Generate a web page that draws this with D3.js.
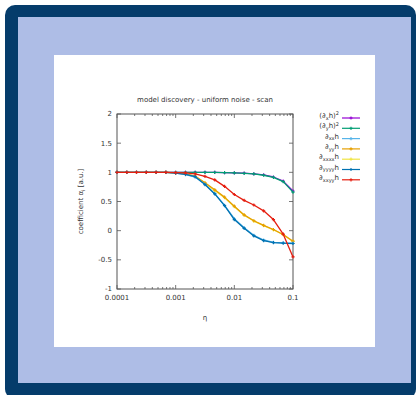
<!DOCTYPE html>
<html>
<head>
<meta charset="utf-8">
<script src="https://cdn.jsdelivr.net/npm/d3@7"></script>
<style>
  html, body { margin: 0; padding: 0; background: #fff; }
  svg { display: block; font-family: "DejaVu Sans", sans-serif; }
</style>
</head>
<body>
<script>
// noise strength eta (log grid)
const eta = [0.0001, 0.000147, 0.000215, 0.000316, 0.000464, 0.000681,
  0.001, 0.00147, 0.00215, 0.00316, 0.00464, 0.00681,
  0.01, 0.0147, 0.0215, 0.0316, 0.0464, 0.0681, 0.1];

const dxhSq   = [1, 1, 1, 1, 1, 1, 1, 1, 1, 1, 1, 0.995, 0.99, 0.985, 0.975, 0.955, 0.92, 0.85, 0.68];
const dyhSq   = [1, 1, 1, 1, 1, 1, 1, 1, 1, 1, 0.998, 0.995, 0.99, 0.983, 0.972, 0.95, 0.915, 0.84, 0.66];
const dxxh    = [1, 1, 1, 1, 1, 1, 0.985, 0.962, 0.92, 0.795, 0.635, 0.435, 0.205, 0.05, -0.08, -0.16, -0.2, -0.21, -0.215];
const dyyh    = [1, 1, 1, 1, 1, 1, 0.99, 0.975, 0.935, 0.82, 0.70, 0.575, 0.42, 0.27, 0.17, 0.09, 0.02, -0.065, -0.18];
const dxxxxh  = [1, 1, 1, 1, 1, 1, 0.99, 0.972, 0.93, 0.815, 0.69, 0.565, 0.41, 0.265, 0.165, 0.085, 0.015, -0.07, -0.185];
const dyyyyh  = [1, 1, 1, 1, 1, 0.998, 0.985, 0.965, 0.925, 0.79, 0.63, 0.43, 0.19, 0.04, -0.09, -0.17, -0.205, -0.215, -0.22];
const dxxyyh  = [1, 1, 1, 1, 1, 1, 0.995, 0.99, 0.975, 0.93, 0.87, 0.76, 0.62, 0.52, 0.44, 0.34, 0.19, -0.06, -0.45];

// legend pieces: [text, kind] kind: n = normal, sub, sup
const seriesLabels = [
  [["(∂", "n"], ["x", "sub"], ["h)", "n"], ["2", "sup"]],
  [["(∂", "n"], ["y", "sub"], ["h)", "n"], ["2", "sup"]],
  [["∂", "n"], ["xx", "sub"], ["h", "n"]],
  [["∂", "n"], ["yy", "sub"], ["h", "n"]],
  [["∂", "n"], ["xxxx", "sub"], ["h", "n"]],
  [["∂", "n"], ["yyyy", "sub"], ["h", "n"]],
  [["∂", "n"], ["xxyy", "sub"], ["h", "n"]]
];
const seriesValues = [dxhSq, dyhSq, dxxh, dyyh, dxxxxh, dyyyyh, dxxyyh];
const colors = ["#9400d3", "#009e73", "#56b4e9", "#e69f00", "#f0e442", "#0072b2", "#e51e10"];
// paint order so the overlapping pairs both show
const drawOrder = [0, 1, 4, 3, 2, 5, 6];

const yTicks = [-1, -0.5, 0, 0.5, 1, 1.5, 2];
const xTicks = [0.0001, 0.001, 0.01, 0.1];
const xTickLabels = ["0.0001", "0.001", "0.01", "0.1"];

const width = 419, height = 395;
const plot = { left: 117, right: 293, top: 114, bottom: 289 };

const svg = d3.select("body").append("svg")
  .attr("width", width)
  .attr("height", height);

// frame
svg.append("rect")
  .attr("x", 5).attr("y", 5).attr("width", 411).attr("height", 394)
  .attr("rx", 10).attr("fill", "#053c6b");
svg.append("rect")
  .attr("x", 18).attr("y", 17).attr("width", 393).attr("height", 366)
  .attr("fill", "#aebde6");
svg.append("rect")
  .attr("x", 54).attr("y", 55).attr("width", 321).attr("height", 292)
  .attr("fill", "#fff");

const x = d3.scaleLog().domain([0.0001, 0.1]).range([plot.left, plot.right]);
const y = d3.scaleLinear().domain([-1, 2]).range([plot.bottom, plot.top]);

const axisColor = "#555";
const textColor = "#333";

// minor ticks on x
const minor = [];
[0.0001, 0.001, 0.01].forEach(d => { for (let m = 2; m <= 9; m++) minor.push(d * m); });

const ticks = svg.append("g").attr("stroke", axisColor).attr("stroke-width", 0.8);
xTicks.forEach(t => {
  ticks.append("line").attr("x1", x(t)).attr("x2", x(t)).attr("y1", plot.bottom).attr("y2", plot.bottom - 4);
  ticks.append("line").attr("x1", x(t)).attr("x2", x(t)).attr("y1", plot.top).attr("y2", plot.top + 4);
});
minor.forEach(t => {
  ticks.append("line").attr("x1", x(t)).attr("x2", x(t)).attr("y1", plot.bottom).attr("y2", plot.bottom - 2);
  ticks.append("line").attr("x1", x(t)).attr("x2", x(t)).attr("y1", plot.top).attr("y2", plot.top + 2);
});
yTicks.forEach(t => {
  ticks.append("line").attr("x1", plot.left).attr("x2", plot.left + 4).attr("y1", y(t)).attr("y2", y(t));
  ticks.append("line").attr("x1", plot.right).attr("x2", plot.right - 4).attr("y1", y(t)).attr("y2", y(t));
});

svg.append("rect")
  .attr("x", plot.left).attr("y", plot.top)
  .attr("width", plot.right - plot.left).attr("height", plot.bottom - plot.top)
  .attr("fill", "none").attr("stroke", axisColor).attr("stroke-width", 1);

// tick labels
svg.append("g")
  .selectAll("text")
  .data(yTicks)
  .join("text")
  .attr("x", plot.left - 5)
  .attr("y", d => y(d))
  .attr("dy", "0.35em")
  .attr("text-anchor", "end")
  .attr("font-size", 7)
  .attr("fill", textColor)
  .text(d => d);

svg.append("g")
  .selectAll("text")
  .data(xTicks)
  .join("text")
  .attr("x", d => x(d))
  .attr("y", plot.bottom + 11)
  .attr("text-anchor", "middle")
  .attr("font-size", 7)
  .attr("fill", textColor)
  .text((d, i) => xTickLabels[i]);

// title + axis labels
svg.append("text")
  .attr("x", (plot.left + plot.right) / 2).attr("y", 102)
  .attr("text-anchor", "middle").attr("font-size", 7).attr("fill", textColor)
  .text("model discovery - uniform noise - scan");

svg.append("text")
  .attr("x", (plot.left + plot.right) / 2).attr("y", 320)
  .attr("text-anchor", "middle").attr("font-size", 7).attr("fill", textColor)
  .text("η");

const ylab = svg.append("text")
  .attr("transform", `translate(83,${(plot.top + plot.bottom) / 2}) rotate(-90)`)
  .attr("text-anchor", "middle").attr("font-size", 7).attr("fill", textColor);
ylab.append("tspan").text("coefficient α");
ylab.append("tspan").attr("font-size", 5).attr("dy", 1.5).text("i");
ylab.append("tspan").attr("dy", -1.5).text(" [a.u.]");

// series
const line = d3.line().x((d, i) => x(eta[i])).y(d => y(d));
const plus = "M-1.6,0H1.6M0,-1.6V1.6";

drawOrder.forEach(s => {
  const vals = seriesValues[s];
  const g = svg.append("g");
  g.append("path")
    .datum(vals)
    .attr("fill", "none")
    .attr("stroke", colors[s])
    .attr("stroke-width", 1.3)
    .attr("stroke-linejoin", "round")
    .attr("d", line);
  g.selectAll("path.pt")
    .data(vals)
    .join("path")
    .attr("class", "pt")
    .attr("transform", (d, i) => `translate(${x(eta[i])},${y(d)})`)
    .attr("stroke", colors[s])
    .attr("stroke-width", 1.1)
    .attr("d", plus);
});

// legend
const legend = svg.append("g");
seriesLabels.forEach((parts, i) => {
  const ly = 118 + i * 10.3;
  const t = legend.append("text")
    .attr("x", 339).attr("y", ly).attr("dy", "0.35em")
    .attr("text-anchor", "end").attr("font-size", 7).attr("fill", textColor);
  let shift = 0;
  parts.forEach(([txt, kind]) => {
    const target = kind === "sub" ? 1.8 : kind === "sup" ? -2.8 : 0;
    t.append("tspan")
      .attr("dy", target - shift)
      .attr("font-size", kind === "n" ? 7 : 5)
      .text(txt);
    shift = target;
  });
  legend.append("line")
    .attr("x1", 342).attr("x2", 360).attr("y1", ly).attr("y2", ly)
    .attr("stroke", colors[i]).attr("stroke-width", 1.2);
  legend.append("path")
    .attr("transform", `translate(351,${ly})`)
    .attr("stroke", colors[i])
    .attr("stroke-width", 1.1)
    .attr("d", plus);
});
</script>
</body>
</html>
